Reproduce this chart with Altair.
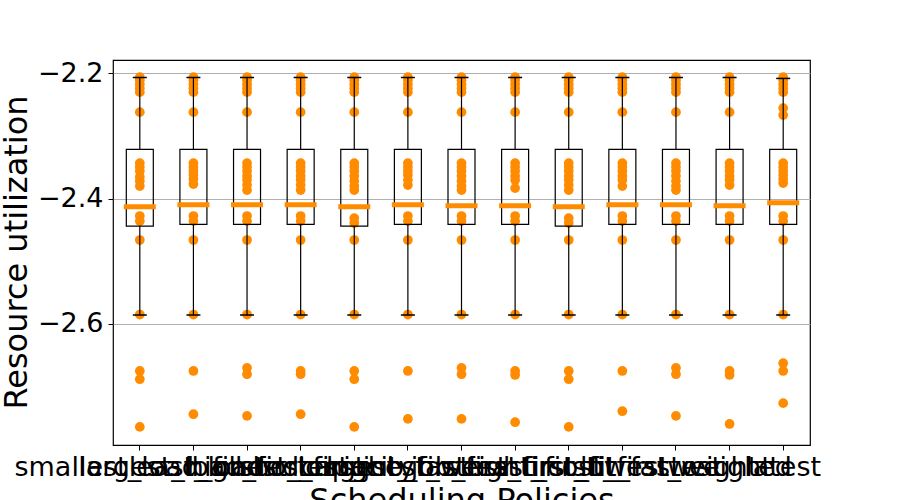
import altair as alt
import pandas as pd

policies = [
    "smallest_load_first", "largest_load_first", "least_loaded_first",
    "highest_capacity", "shortest_job_first", "longest_job_first",
    "highest_weight_first", "fastest_first_fit", "least_cost_first",
    "first_fit_fastest", "lowest_weight", "weighted", "latest",
]

# raw observations per policy (visible points)
points = [
    [-2.2064, -2.2112, -2.2175, -2.2239, -2.2303, -2.2622, -2.3434, -2.3498, -2.3562, -2.3657, -2.3721, -2.3801, -2.4279, -2.4359, -2.4661, -2.5849, -2.6749, -2.6881, -2.7641],
    [-2.2064, -2.2112, -2.2175, -2.2239, -2.2303, -2.2622, -2.3434, -2.3498, -2.3562, -2.3625, -2.3689, -2.3769, -2.4279, -2.4359, -2.4661, -2.5849, -2.6749, -2.7439],
    [-2.2064, -2.2112, -2.2175, -2.2239, -2.2303, -2.2622, -2.3434, -2.3498, -2.3562, -2.3641, -2.3705, -2.3785, -2.3865, -2.4279, -2.4359, -2.4661, -2.5849, -2.6701, -2.6801, -2.7466],
    [-2.2064, -2.2112, -2.2175, -2.2239, -2.2303, -2.2622, -2.3434, -2.3498, -2.3562, -2.3641, -2.3705, -2.3785, -2.3865, -2.4279, -2.4359, -2.4661, -2.5849, -2.6749, -2.6801, -2.7439],
    [-2.2064, -2.2112, -2.2175, -2.2239, -2.2303, -2.2622, -2.3434, -2.3498, -2.3562, -2.3641, -2.3721, -2.3801, -2.3865, -2.4311, -2.4390, -2.4661, -2.5849, -2.6749, -2.6881, -2.7641],
    [-2.2064, -2.2112, -2.2175, -2.2239, -2.2303, -2.2622, -2.3434, -2.3498, -2.3562, -2.3625, -2.3705, -2.3785, -2.4279, -2.4359, -2.4661, -2.5849, -2.6749, -2.7514],
    [-2.2064, -2.2112, -2.2175, -2.2239, -2.2303, -2.2622, -2.3434, -2.3498, -2.3562, -2.3641, -2.3721, -2.3801, -2.3865, -2.4279, -2.4359, -2.4661, -2.5849, -2.6701, -2.6801, -2.7514],
    [-2.2064, -2.2112, -2.2175, -2.2239, -2.2303, -2.2622, -2.3434, -2.3498, -2.3562, -2.3641, -2.3705, -2.3833, -2.4279, -2.4359, -2.4661, -2.5849, -2.6749, -2.6813, -2.7567],
    [-2.2064, -2.2112, -2.2175, -2.2239, -2.2303, -2.2622, -2.3434, -2.3498, -2.3562, -2.3641, -2.3705, -2.3785, -2.3865, -2.4311, -2.4390, -2.4661, -2.5849, -2.6749, -2.6881, -2.7641],
    [-2.2064, -2.2112, -2.2175, -2.2239, -2.2303, -2.2622, -2.3434, -2.3498, -2.3562, -2.3641, -2.3705, -2.3801, -2.4279, -2.4359, -2.4661, -2.5849, -2.6749, -2.7391],
    [-2.2064, -2.2112, -2.2175, -2.2239, -2.2303, -2.2622, -2.3434, -2.3498, -2.3562, -2.3641, -2.3721, -2.3801, -2.3865, -2.4279, -2.4359, -2.4661, -2.5849, -2.6701, -2.6801, -2.7466],
    [-2.2064, -2.2112, -2.2175, -2.2239, -2.2303, -2.2622, -2.3434, -2.3498, -2.3562, -2.3641, -2.3705, -2.3785, -2.4279, -2.4359, -2.4661, -2.5849, -2.6749, -2.6813, -2.7594],
    [-2.2064, -2.2112, -2.2175, -2.2239, -2.2303, -2.2558, -2.2669, -2.3434, -2.3498, -2.3562, -2.3625, -2.3689, -2.3753, -2.4279, -2.4359, -2.4661, -2.5849, -2.6626, -2.6749, -2.7263],
]

# box statistics
q1 = [-2.4438, -2.4411, -2.4411, -2.4411, -2.4438, -2.4411, -2.4411, -2.4411, -2.4438, -2.4411, -2.4411, -2.4411, -2.4411]
q3 = [-2.3216] * 13
medians = [-2.4131, -2.4099, -2.4099, -2.4099, -2.4131, -2.4099, -2.4115, -2.4115, -2.4131, -2.4099, -2.4099, -2.4115, -2.4067]
whisker_lo = [-2.5857] * 13
whisker_hi = [-2.2069] * 12 + [-2.2084]

ORANGE = "#ff8c00"
FONT = "DejaVu Sans"

pts_df = pd.DataFrame(
    [{"policy": p, "value": v} for p, vals in zip(policies, points) for v in vals]
)
stats_df = pd.DataFrame({
    "policy": policies, "q1": q1, "q3": q3, "median": medians,
    "wlo": whisker_lo, "whi": whisker_hi,
})

x_enc = alt.X(
    "policy:N", sort=policies, title="Scheduling Policies",
    scale=alt.Scale(paddingInner=0, paddingOuter=0),
    axis=alt.Axis(
        labelAngle=0, labelOverlap=False, labelLimit=0, labelFontSize=27,
        labelFont=FONT, labelColor="black", labelPadding=4,
        tickColor="black", tickSize=5, domain=False, grid=False,
        titleFontSize=32, titleFont=FONT, titleFontWeight="normal",
        titleColor="black", titleY=40, titleBaseline="top",
    ),
)
y_scale = alt.Scale(domain=[-2.793, -2.179], nice=False, zero=False)
y_axis = alt.Axis(
    values=[-2.6, -2.4, -2.2], format=".1f", labelFontSize=27, labelFont=FONT,
    labelColor="black", labelPadding=5, tickColor="black", tickSize=5,
    domain=False, grid=True, gridColor="#b0b0b0", gridWidth=1,
    title="Resource utilization", titleFontSize=32, titleFont=FONT,
    titleFontWeight="normal", titleColor="black", titleX=-97, titleY=192,
    titleBaseline="middle", titleAlign="center", titleAngle=-90,
)

pts = alt.Chart(pts_df).mark_circle(size=95, color=ORANGE, opacity=1).encode(
    x=x_enc,
    y=alt.Y("value:Q", scale=y_scale, axis=y_axis),
)

base = alt.Chart(stats_df).encode(x=alt.X("policy:N", sort=policies))

upper = base.mark_rule(color="black", strokeWidth=1.2).encode(y="q3:Q", y2="whi:Q")
lower = base.mark_rule(color="black", strokeWidth=1.2).encode(y="wlo:Q", y2="q1:Q")
cap_hi = base.mark_tick(color="black", size=14, thickness=1.5, opacity=1).encode(y="whi:Q")
cap_lo = base.mark_tick(color="black", size=14, thickness=1.5, opacity=1).encode(y="wlo:Q")
box = base.mark_bar(size=27, fillOpacity=0, stroke="black", strokeWidth=1.2).encode(
    y="q1:Q", y2="q3:Q"
)
med = base.mark_tick(color=ORANGE, size=32, thickness=5, opacity=1).encode(y="median:Q")

chart = (
    alt.layer(pts, upper, lower, box, cap_hi, cap_lo, med)
    .properties(
        width=697, height=385,
        autosize=alt.AutoSizeParams(type="none"),
        padding={"left": 113, "top": 60, "right": 90, "bottom": 55},
        background="white",
    )
    .configure_view(stroke="black", strokeWidth=1.2)
)

chart.save("out.html", embed_options={"renderer": "svg", "actions": False})
